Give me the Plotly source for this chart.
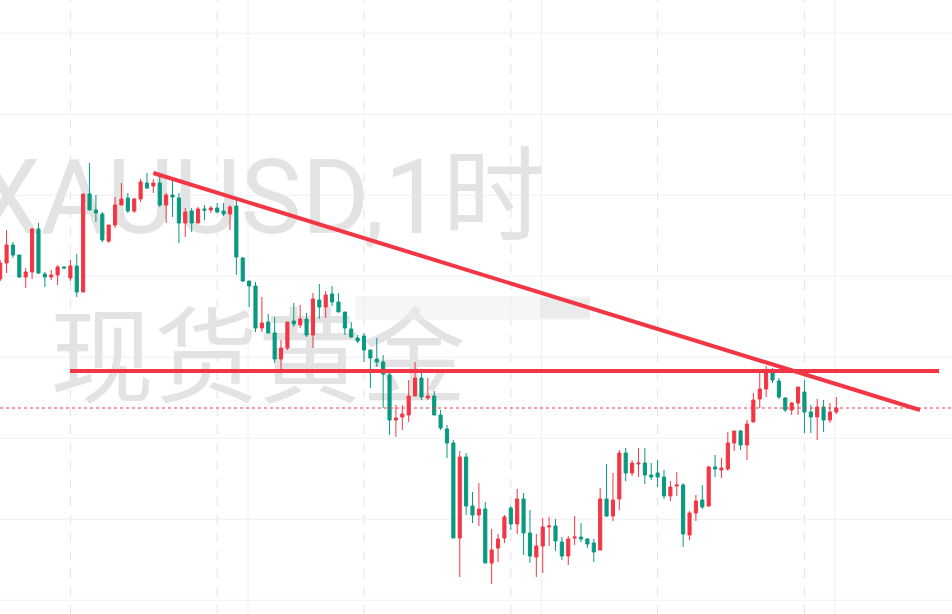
import plotly.graph_objects as go

# ---------------- data (hourly XAUUSD candles) ----------------
bar_index = list(range(132))
open_ = [2372.1,2373.7,2375.5,2374.5,2372.3,2372.8,2377.1,2372.6,2372.3,2372.5,
         2373.3,2372.2,2373.4,2370.8,2380.6,2379.0,2378.6,2375.9,2377.5,2379.5,
         2380.2,2378.9,2380.1,2381.7,2381.4,2381.7,2379.5,2380.5,2380.2,2377.7,
         2378.9,2377.7,2379.1,2379.0,2379.2,2378.9,2378.6,2379.4,2374.2,2371.9,
         2371.4,2367.2,2367.8,2366.7,2364.1,2365.2,2367.9,2367.5,2368.1,2366.5,
         2370.0,2369.3,2370.6,2369.8,2368.8,2367.1,2366.2,2366.4,2365.0,2364.1,
         2363.8,2362.5,2358.0,2358.3,2358.5,2360.4,2362.2,2360.2,2360.4,2358.5,
         2357.1,2355.7,2346.2,2354.3,2349.4,2348.5,2349.1,2343.7,2345.2,2346.2,
         2349.2,2347.6,2350.1,2346.7,2344.3,2345.4,2347.3,2347.4,2345.8,2344.4,
         2346.2,2346.3,2346.1,2345.7,2345.0,2350.1,2348.4,2350.1,2354.7,2352.7,
         2353.6,2353.7,2352.5,2352.7,2352.3,2350.4,2351.4,2351.5,2346.5,2348.7,
         2350.0,2349.4,2353.3,2353.0,2353.1,2355.7,2356.9,2355.5,2357.8,2360.1,
         2361.1,2363.0,2361.9,2360.2,2359.0,2359.7,2360.8,2358.8,2358.3,2359.3,
         2358.0,2358.8]
high_ = [2374.0,2377.0,2375.8,2374.5,2373.2,2377.2,2377.7,2372.8,2373.0,2373.5,
         2373.4,2374.0,2374.6,2380.6,2383.7,2380.5,2378.8,2377.5,2380.3,2381.7,
         2380.7,2380.2,2382.1,2382.7,2382.1,2382.5,2380.7,2382.0,2380.7,2379.2,
         2379.2,2379.3,2379.5,2379.4,2379.7,2379.7,2379.5,2380.0,2374.3,2371.9,
         2371.8,2370.3,2368.6,2368.3,2366.0,2367.8,2369.7,2369.5,2368.7,2370.7,
         2371.6,2370.9,2371.4,2370.7,2368.8,2367.8,2366.5,2366.7,2365.0,2366.2,
         2364.5,2362.8,2359.5,2359.5,2362.0,2363.8,2362.7,2362.2,2360.9,2359.0,
         2357.5,2356.0,2354.9,2354.7,2350.8,2351.7,2349.8,2347.1,2346.6,2348.5,
         2349.4,2351.1,2350.7,2349.0,2346.6,2348.2,2348.3,2348.1,2346.3,2346.4,
         2348.4,2347.7,2346.2,2346.1,2351.2,2353.6,2352.7,2355.0,2355.2,2354.0,
         2355.2,2355.2,2353.7,2354.0,2353.0,2351.9,2352.8,2351.7,2348.9,2350.5,
         2351.5,2353.4,2354.5,2354.2,2356.8,2356.9,2357.0,2358.0,2360.7,2362.7,
         2363.4,2363.2,2362.2,2360.3,2359.8,2361.3,2362.0,2359.5,2360.1,2360.0,
         2359.7,2360.3]
low_ = [2371.9,2372.7,2374.2,2372.2,2371.2,2372.1,2372.6,2371.3,2372.0,2371.5,
        2373.2,2371.9,2370.3,2370.8,2379.0,2377.8,2375.8,2375.7,2377.2,2379.5,
        2378.7,2378.7,2379.8,2381.1,2380.7,2379.3,2377.7,2378.3,2375.7,2376.3,
        2376.8,2377.7,2378.0,2378.7,2378.7,2378.4,2377.0,2372.5,2371.8,2369.3,
        2366.8,2366.8,2366.7,2363.7,2363.0,2365.0,2367.3,2367.2,2366.3,2365.2,
        2368.1,2368.2,2369.4,2368.8,2366.5,2366.2,2365.7,2363.8,2361.2,2363.3,
        2359.2,2356.5,2356.3,2357.0,2357.8,2360.4,2360.0,2360.0,2358.5,2357.0,
        2354.2,2346.2,2342.3,2348.5,2347.7,2347.4,2343.7,2341.6,2343.8,2345.7,
        2347.0,2346.6,2344.5,2343.7,2342.3,2342.7,2345.4,2344.9,2344.0,2343.5,
        2345.5,2345.8,2345.2,2343.8,2345.0,2348.3,2347.9,2349.0,2351.9,2352.4,
        2352.3,2351.6,2352.0,2351.3,2350.1,2349.9,2350.4,2345.3,2346.0,2347.9,
        2349.1,2349.3,2352.3,2352.2,2352.9,2354.9,2355.0,2354.0,2357.8,2359.2,
        2360.3,2361.7,2360.1,2358.8,2358.5,2358.5,2356.7,2356.7,2356.0,2356.8,
        2357.7,2358.6]
close_ = [2373.7,2375.5,2374.5,2372.3,2372.8,2377.1,2372.7,2372.3,2372.5,2373.3,
          2373.2,2373.4,2370.8,2380.6,2379.0,2378.7,2376.0,2377.5,2379.5,2380.1,
          2378.9,2380.1,2381.8,2381.2,2381.7,2379.5,2380.5,2380.3,2377.7,2378.8,
          2377.7,2379.1,2379.0,2379.2,2378.8,2378.6,2379.3,2374.3,2371.9,2371.4,
          2367.2,2367.7,2366.7,2364.1,2365.2,2367.8,2367.6,2368.1,2366.5,2370.1,
          2369.3,2370.5,2369.8,2368.8,2367.2,2366.3,2365.9,2365.0,2364.2,2363.8,
          2362.6,2358.0,2358.2,2358.6,2360.4,2362.2,2360.3,2360.4,2358.5,2357.2,
          2355.7,2346.2,2354.3,2349.4,2348.5,2349.1,2343.7,2345.0,2346.1,2348.3,
          2347.6,2350.1,2346.7,2344.4,2345.4,2347.3,2347.4,2345.9,2344.4,2346.1,
          2346.3,2346.1,2345.6,2344.8,2350.1,2348.4,2350.0,2354.7,2352.7,2353.7,
          2353.7,2352.5,2352.3,2352.3,2350.4,2351.3,2351.5,2346.6,2348.7,2349.9,
          2349.3,2353.3,2353.1,2353.2,2355.7,2356.9,2355.5,2357.6,2360.0,2361.1,
          2362.7,2362.0,2360.3,2359.0,2359.7,2361.3,2358.8,2358.3,2359.3,2358.0,
          2358.8,2359.2]

grid_prices = [2396.67, 2388.57, 2380.47, 2372.37, 2364.27, 2356.17, 2348.07, 2339.97]
session_breaks = [11, 34, 57, 80, 103, 126]
time_grid = [38.83, 84.8, 130.77]
support_level = 2362.9
trend_x = [24, 144.1]
trend_y = [2382.7, 2359.0]
support_x = [10.94, 147.1]
last_price = close_[-1]
watermark_line1 = "XAUUSD,1时"
watermark_line2 = "现货黄金"

W, H = 952, 614
X_RANGE = [-0.028, 149.12]
Y_RANGE = [2338.6, 2400.0]

UP = "#F23645"     # red = rising (Chinese convention)
DOWN = "#089981"   # green = falling

fig = go.Figure()

# watermark on base axes (pixel space), candles on overlaying axes so they sit above it
fig.add_trace(go.Scatter(
    x=[-24, 50], y=[207, 369], mode="text",
    text=[watermark_line1, watermark_line2], textposition="middle right",
    textfont=dict(family="Roboto, 'Noto Sans CJK SC', sans-serif", size=[103, 104], color="#e3e3e3"),
    hoverinfo="skip", showlegend=False, xaxis="x", yaxis="y"))

fig.add_trace(go.Candlestick(
    x=bar_index, open=open_, high=high_, low=low_, close=close_,
    increasing=dict(line=dict(color=UP, width=1), fillcolor=UP),
    decreasing=dict(line=dict(color=DOWN, width=1), fillcolor=DOWN),
    whiskerwidth=0, showlegend=False, xaxis="x2", yaxis="y2", hoverinfo="skip"))

shapes = []
for gp in grid_prices:
    shapes.append(dict(type="line", xref="x2", yref="y2", x0=X_RANGE[0], x1=X_RANGE[1], y0=gp, y1=gp,
                       line=dict(color="#eef0f4", width=1), layer="below"))
for tg in time_grid:
    shapes.append(dict(type="line", xref="x2", yref="paper", x0=tg, x1=tg, y0=0, y1=1,
                       line=dict(color="#eef0f4", width=1), layer="below"))
for sb in session_breaks:
    shapes.append(dict(type="line", xref="x2", yref="paper", x0=sb, x1=sb, y0=0, y1=1,
                       line=dict(color="#e0e2e7", width=1, dash="dash"), layer="below"))
# current price dotted line
shapes.append(dict(type="line", xref="x2", yref="y2", x0=X_RANGE[0], x1=X_RANGE[1], y0=last_price, y1=last_price,
                   line=dict(color=UP, width=1, dash="dot"), layer="above"))
# blurred label band
shapes.append(dict(type="rect", xref="x2", yref="y2", x0=55.6, x1=92.4, y0=2368.0, y1=2370.4,
                   fillcolor="rgba(236,239,238,0.55)", line=dict(width=0), layer="above"))
shapes.append(dict(type="rect", xref="x2", yref="y2", x0=84.6, x1=92.4, y0=2368.2, y1=2370.2,
                   fillcolor="rgba(215,217,217,0.35)", line=dict(width=0), layer="above"))
# drawn lines
shapes.append(dict(type="line", xref="x2", yref="y2", x0=support_x[0], x1=support_x[1], y0=support_level, y1=support_level,
                   line=dict(color="#f23645", width=4), layer="above"))
shapes.append(dict(type="line", xref="x2", yref="y2", x0=trend_x[0], x1=trend_x[1], y0=trend_y[0], y1=trend_y[1],
                   line=dict(color="#f23645", width=4), layer="above"))

fig.update_layout(
    width=W, height=H, margin=dict(l=0, r=0, t=0, b=0),
    paper_bgcolor="white", plot_bgcolor="white",
    shapes=shapes,
    xaxis=dict(range=[0, W], visible=False, fixedrange=True),
    yaxis=dict(range=[H, 0], visible=False, fixedrange=True),
    xaxis2=dict(range=X_RANGE, overlaying="x", visible=False, rangeslider=dict(visible=False)),
    yaxis2=dict(range=Y_RANGE, overlaying="y", visible=False),
    showlegend=False,
)

fig.write_html("out.html")
